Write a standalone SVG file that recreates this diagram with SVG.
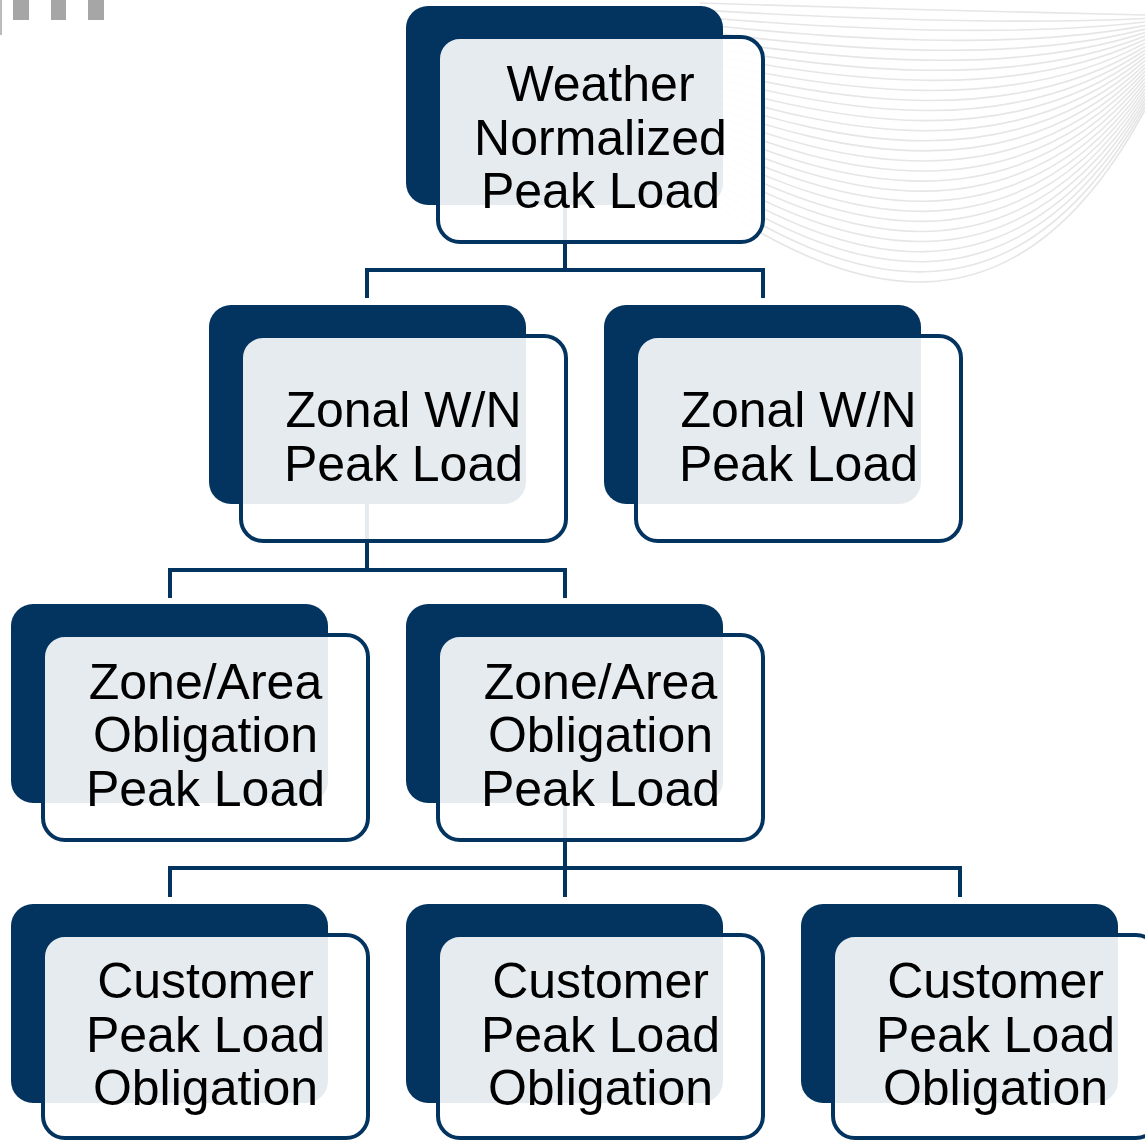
<svg xmlns="http://www.w3.org/2000/svg" width="1145" height="1140" viewBox="0 0 1145 1140">
<style>
.back{fill:#03345F}
.front{fill:#FFFFFF;fill-opacity:0.9;stroke:#03345F;stroke-width:4}
.lbl{font-family:"Liberation Sans",Arial,sans-serif;font-size:50px;fill:#000;text-anchor:middle}
.conn{fill:none;stroke:#03345F;stroke-width:4}
.deco{fill:none;stroke:#E6E6E6;stroke-width:1.6}
</style>
<rect width="1145" height="1140" fill="#FFFFFF"/>
<g id="decoration">
<rect x="0" y="0" width="2" height="35" fill="#BBBBBB"/>
<rect x="13" y="0" width="16" height="20" fill="#A6A6A6"/>
<rect x="51" y="0" width="15" height="20" fill="#A6A6A6"/>
<rect x="88" y="0" width="16" height="20" fill="#A6A6A6"/>
<path class="deco" d="M700,3 C840,8 1010,12 1145,15"/>
<path class="deco" d="M700,10.1 C840,18.4 1010,24.9 1145,18.5"/>
<path class="deco" d="M700,17.2 C840,28.9 1010,37.8 1145,22"/>
<path class="deco" d="M700,24.3 C840,39.3 1010,50.7 1145,25.6"/>
<path class="deco" d="M700,31.4 C840,49.8 1010,63.6 1145,29.1"/>
<path class="deco" d="M700,38.6 C840,60.2 1010,76.4 1145,32.6"/>
<path class="deco" d="M700,45.7 C840,70.7 1010,89.3 1145,36.1"/>
<path class="deco" d="M700,52.8 C840,81.1 1010,102.2 1145,39.6"/>
<path class="deco" d="M700,59.9 C840,91.6 1010,115.1 1145,43.1"/>
<path class="deco" d="M700,67 C840,102 1010,128 1145,46.7"/>
<path class="deco" d="M700,74.1 C840,112.4 1010,140.9 1145,50.2"/>
<path class="deco" d="M700,81.2 C840,122.9 1010,153.8 1145,53.7"/>
<path class="deco" d="M700,88.3 C840,133.3 1010,166.7 1145,57.2"/>
<path class="deco" d="M700,95.4 C840,143.8 1010,179.6 1145,60.7"/>
<path class="deco" d="M700,102.6 C840,154.2 1010,192.4 1145,64.3"/>
<path class="deco" d="M700,109.7 C840,164.7 1010,205.3 1145,67.8"/>
<path class="deco" d="M700,116.8 C840,175.1 1010,218.2 1145,71.3"/>
<path class="deco" d="M700,123.9 C840,185.6 1010,231.1 1145,74.8"/>
<path class="deco" d="M700,131 C840,196 1010,244 1145,78.3"/>
<path class="deco" d="M700,138.1 C840,206.4 1010,256.9 1145,81.9"/>
<path class="deco" d="M700,145.2 C840,216.9 1010,269.8 1145,85.4"/>
<path class="deco" d="M700,152.3 C840,227.3 1010,282.7 1145,88.9"/>
<path class="deco" d="M700,159.4 C840,237.8 1010,295.6 1145,92.4"/>
<path class="deco" d="M700,166.6 C840,248.2 1010,308.4 1145,95.9"/>
<path class="deco" d="M700,173.7 C840,258.7 1010,321.3 1145,99.5"/>
<path class="deco" d="M700,180.8 C840,269.1 1010,334.2 1145,103"/>
<path class="deco" d="M700,187.9 C840,279.6 1010,347.1 1145,106.5"/>
<path class="deco" d="M700,195 C840,290 1010,360 1145,110"/>
</g>
<g id="connectors">
<path class="conn" d="M565,150 V270 M367,298 V270 H763 V298"/>
<path class="conn" d="M367,450 V570 M170,598 V570 H565 V598"/>
<path class="conn" d="M565,750 V868 M170,897 V868 H960 V897 M565,868 V897"/>
</g>
<g id="n_weather">
<rect class="back" x="406" y="6" width="317" height="199" rx="22"/>
<rect class="front" x="438" y="37" width="325" height="205" rx="22"/>
<text class="lbl"><tspan x="600.5" y="101">Weather</tspan><tspan x="600.5" y="155">Normalized</tspan><tspan x="600.5" y="208">Peak Load</tspan></text>
</g>
<g id="n_zonal1">
<rect class="back" x="209" y="305" width="317" height="199" rx="22"/>
<rect class="front" x="241" y="336" width="325" height="205" rx="22"/>
<text class="lbl"><tspan x="403.5" y="427">Zonal W/N</tspan><tspan x="403.5" y="481">Peak Load</tspan></text>
</g>
<g id="n_zonal2">
<rect class="back" x="604" y="305" width="317" height="199" rx="22"/>
<rect class="front" x="636" y="336" width="325" height="205" rx="22"/>
<text class="lbl"><tspan x="798.5" y="427">Zonal W/N</tspan><tspan x="798.5" y="481">Peak Load</tspan></text>
</g>
<g id="n_zone1">
<rect class="back" x="11" y="604" width="317" height="199" rx="22"/>
<rect class="front" x="43" y="635" width="325" height="205" rx="22"/>
<text class="lbl"><tspan x="205.5" y="699">Zone/Area</tspan><tspan x="205.5" y="752">Obligation</tspan><tspan x="205.5" y="806">Peak Load</tspan></text>
</g>
<g id="n_zone2">
<rect class="back" x="406" y="604" width="317" height="199" rx="22"/>
<rect class="front" x="438" y="635" width="325" height="205" rx="22"/>
<text class="lbl"><tspan x="600.5" y="699">Zone/Area</tspan><tspan x="600.5" y="752">Obligation</tspan><tspan x="600.5" y="806">Peak Load</tspan></text>
</g>
<g id="n_cust1">
<rect class="back" x="11" y="904" width="317" height="199" rx="22"/>
<rect class="front" x="43" y="935" width="325" height="203" rx="22"/>
<text class="lbl"><tspan x="205.5" y="998">Customer</tspan><tspan x="205.5" y="1052">Peak Load</tspan><tspan x="205.5" y="1105">Obligation</tspan></text>
</g>
<g id="n_cust2">
<rect class="back" x="406" y="904" width="317" height="199" rx="22"/>
<rect class="front" x="438" y="935" width="325" height="203" rx="22"/>
<text class="lbl"><tspan x="600.5" y="998">Customer</tspan><tspan x="600.5" y="1052">Peak Load</tspan><tspan x="600.5" y="1105">Obligation</tspan></text>
</g>
<g id="n_cust3">
<rect class="back" x="801" y="904" width="317" height="199" rx="22"/>
<rect class="front" x="833" y="935" width="325" height="203" rx="22"/>
<text class="lbl"><tspan x="995.5" y="998">Customer</tspan><tspan x="995.5" y="1052">Peak Load</tspan><tspan x="995.5" y="1105">Obligation</tspan></text>
</g>
</svg>
